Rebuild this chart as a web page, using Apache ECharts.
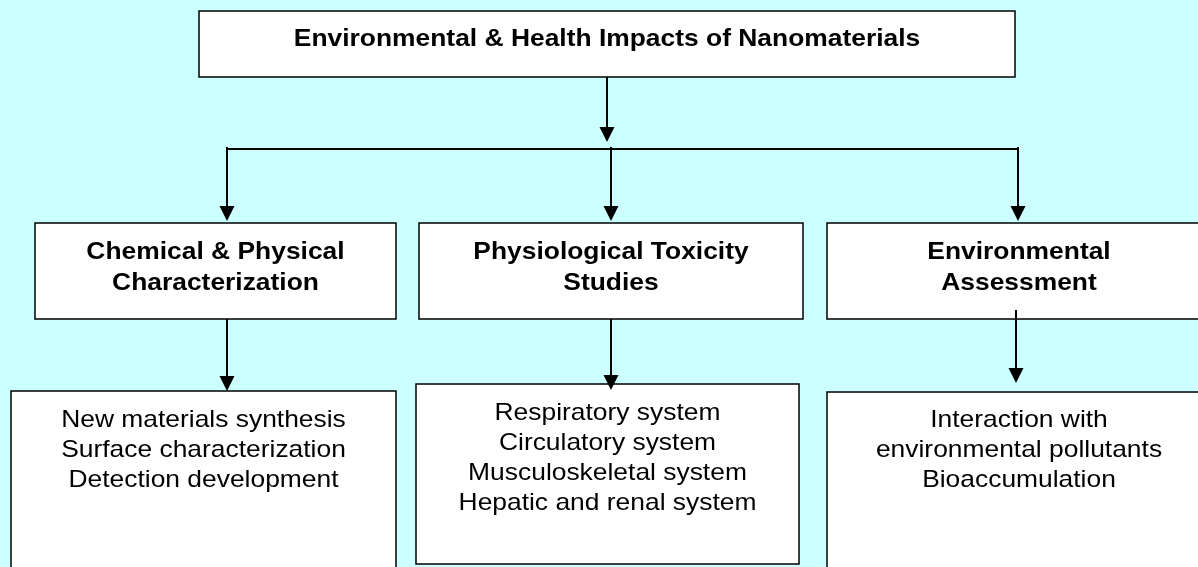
<!DOCTYPE html>
<html>
<head>
<meta charset="utf-8">
<script src="https://cdn.jsdelivr.net/npm/echarts@6/dist/echarts.min.js"></script>
<style>
  html, body { margin: 0; padding: 0; background: #ccffff; }
  #flow { width: 1198px; height: 567px; }
</style>
</head>
<body>
<div id="flow"></div>
<script>
// 文本数据
var rootTitle = 'Environmental & Health Impacts of Nanomaterials';
var branchTitles = [
    ['Chemical & Physical', 'Characterization'],
    ['Physiological Toxicity', 'Studies'],
    ['Environmental', 'Assessment']
];
var branchItems = [
    ['New materials synthesis', 'Surface characterization', 'Detection development'],
    ['Respiratory system', 'Circulatory system', 'Musculoskeletal system', 'Hepatic and renal system'],
    ['Interaction with', 'environmental pollutants', 'Bioaccumulation']
];

// 版式
var FONT = '"Liberation Sans", Arial, Helvetica, sans-serif';
var TEXT_SHIFT = 2; // 文字整体下移
var rootBox = {x: 199, y: 11, w: 816, h: 66, textY: 37.5};
var busY = 149;
var midBoxes = [
    {x: 35, y: 223, w: 361, h: 96, arrowX: 227},
    {x: 419, y: 223, w: 384, h: 96, arrowX: 611},
    {x: 827, y: 223, w: 384, h: 96, arrowX: 1018}
];
var midTextY = [250, 281];
var lowBoxes = [
    {x: 11, y: 391, w: 385, h: 200, arrowX: 227, from: 319, tip: 391, textY: 418},
    {x: 416, y: 384, w: 383, h: 180, arrowX: 611, from: 319, tip: 390, textY: 411},
    {x: 827, y: 392, w: 384, h: 200, arrowX: 1016, from: 310, tip: 383, textY: 418}
];
var lineGap = 30;

function box(b) {
    return {
        type: 'rect',
        shape: {x: b.x, y: b.y, width: b.w, height: b.h},
        style: {fill: '#fff', stroke: '#000', lineWidth: 1.5}
    };
}
function label(str, cx, cy, bold) {
    return {
        type: 'text',
        x: cx, y: cy + TEXT_SHIFT,
        scaleX: 1.1,
        style: {
            text: str,
            fill: '#000',
            font: (bold ? 'bold ' : '') + '24px ' + FONT,
            textAlign: 'center',
            textVerticalAlign: 'middle'
        }
    };
}
function line(x1, y1, x2, y2) {
    return {
        type: 'line',
        shape: {x1: x1, y1: y1, x2: x2, y2: y2},
        style: {stroke: '#000', lineWidth: 2}
    };
}
// 向下箭头
function arrow(x, y1, tip) {
    return [
        line(x, y1, x, tip - 12),
        {
            type: 'polygon',
            shape: {points: [[x - 7.5, tip - 15], [x + 7.5, tip - 15], [x, tip]]},
            style: {fill: '#000'}
        }
    ];
}

var els = [];
els.push(box(rootBox));
els.push(label(rootTitle, rootBox.x + rootBox.w / 2, rootBox.textY, true));
els = els.concat(arrow(607, rootBox.y + rootBox.h, 142));
els.push(line(226, busY, 1018, busY));

midBoxes.forEach(function (b, i) {
    els = els.concat(arrow(b.arrowX, busY - 2, 221));
    els.push(box(b));
    branchTitles[i].forEach(function (t, k) {
        els.push(label(t, b.x + b.w / 2, midTextY[k], true));
    });
});

lowBoxes.forEach(function (b, i) {
    els.push(box(b));
    branchItems[i].forEach(function (t, k) {
        els.push(label(t, b.x + b.w / 2, b.textY + k * lineGap, false));
    });
});
lowBoxes.forEach(function (b) {
    els = els.concat(arrow(b.arrowX, b.from, b.tip));
});

var option = {
    backgroundColor: '#ccffff',
    animation: false,
    graphic: {elements: els}
};
var myChart = echarts.init(document.getElementById('flow'));
myChart.setOption(option);
</script>
</body>
</html>
